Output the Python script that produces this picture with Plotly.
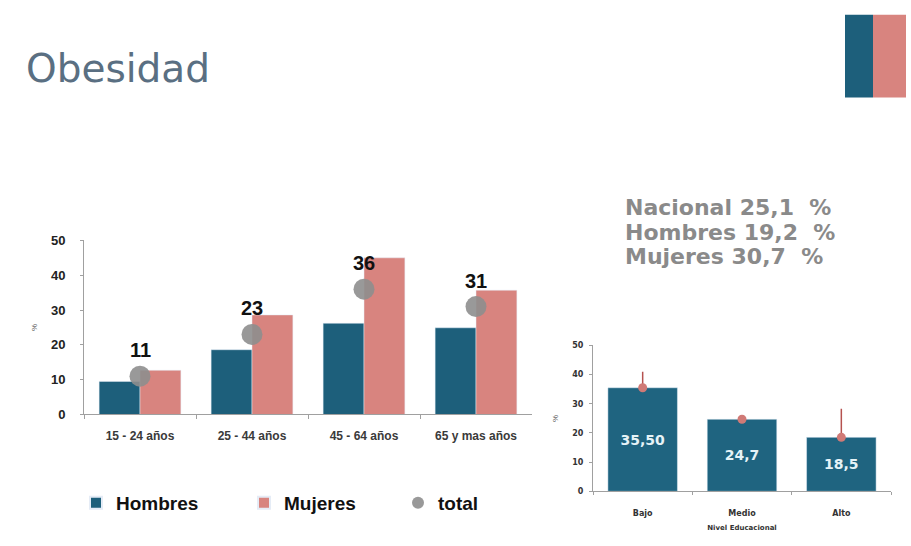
import plotly.graph_objects as go

W, H = 911, 546

# Obesidad por grupo de edad y sexo (%)
grupos_edad = ["15 - 24 años", "25 - 44 años", "45 - 64 años", "65 y mas años"]
hombres = [9.5, 18.6, 26.2, 24.9]
mujeres = [12.7, 28.6, 45.0, 35.7]
total = [11, 23, 36, 31]

# Obesidad por nivel educacional (%)
nivel_educ = ["Bajo", "Medio", "Alto"]
nivel_valores = [35.50, 24.7, 18.5]
nivel_textos = ["35,50", "24,7", "18,5"]
nivel_error_sup = [5.5, 0.8, 9.8]

# Prevalencias resumen
resumen_etiquetas = ["Nacional", "Hombres", "Mujeres"]
resumen_valores = ["25,1", "19,2", "30,7"]

TEAL = "#1d5f7b"
SALMON = "#d8847f"
GRIS = "#8e8e8e"
FONT = "Liberation Sans"


def px_x(x):
    return x / W


def px_y(y):
    return 1 - y / H


fig = go.Figure()

fig.add_trace(go.Bar(
    x=grupos_edad, y=hombres, name="Hombres", marker_color=TEAL,
    xaxis="x", yaxis="y", legend="legend",
))
fig.add_trace(go.Bar(
    x=grupos_edad, y=mujeres, name="Mujeres", marker_color=SALMON,
    xaxis="x", yaxis="y", legend="legend2",
))
fig.add_trace(go.Scatter(
    x=grupos_edad, y=total, name="total", mode="markers",
    marker=dict(size=21, color=GRIS, opacity=0.9),
    xaxis="x", yaxis="y", legend="legend3", cliponaxis=False,
))

for g, v in zip(grupos_edad, total):
    fig.add_annotation(
        x=g, y=v, xref="x", yref="y", text=str(v), showarrow=False,
        yshift=26, font=dict(family=FONT, size=20, color="#111", weight="bold"),
    )

fig.add_trace(go.Bar(
    x=nivel_educ, y=nivel_valores, text=nivel_textos, width=0.7,
    marker_color="#1f6480", showlegend=False,
    textposition="inside", insidetextanchor="middle",
    textfont=dict(family="DejaVu Sans", size=14, color="#e6f3f7", weight="bold"),
    xaxis="x2", yaxis="y2",
))
fig.add_trace(go.Scatter(
    x=nivel_educ, y=nivel_valores, mode="markers", showlegend=False,
    marker=dict(size=9, color="#d07a76"),
    error_y=dict(type="data", symmetric=False, array=nivel_error_sup,
                 arrayminus=[0, 0, 0], color="#b5524f", thickness=1.5, width=0),
    xaxis="x2", yaxis="y2", cliponaxis=False,
))

axis_common = dict(showgrid=False, zeroline=False, showline=True,
                   linecolor="#a0a0a0", linewidth=1)

legend_common = dict(
    orientation="h", yanchor="middle", xanchor="left", y=px_y(510),
    bgcolor="rgba(0,0,0,0)", itemsizing="constant",
    font=dict(family=FONT, size=19, color="#111", weight="bold"),
)

fig.update_layout(
    width=W, height=H, margin=dict(l=0, r=0, t=0, b=0),
    paper_bgcolor="white", plot_bgcolor="white",
    barmode="group", bargap=0.27, bargroupgap=0,
    xaxis=dict(domain=[px_x(84), px_x(532)], range=[-0.5, 3.5],
               ticks="outside", tickson="boundaries", ticklen=4,
               tickcolor="#a0a0a0", ticklabelstandoff=10,
               tickfont=dict(family=FONT, size=12, color="#3a3a3a", weight="bold"),
               anchor="y", **axis_common),
    yaxis=dict(domain=[px_y(419), px_y(240)], range=[0, 50], dtick=10,
               ticks="outside", ticklen=3, tickcolor="#a0a0a0",
               ticklabelstandoff=12,
               tickfont=dict(family=FONT, size=13, color="#222", weight="bold"),
               title=dict(text="%", standoff=12,
                          font=dict(family=FONT, size=8, color="#555")),
               anchor="x", **axis_common),
    xaxis2=dict(domain=[px_x(593), px_x(891)], range=[-0.5, 2.5],
                ticks="outside", tickson="boundaries", ticklen=3,
                tickcolor="#a0a0a0", ticklabelstandoff=14,
                tickfont=dict(family="DejaVu Sans", size=8, color="#333", weight="bold"),
                title=dict(text="Nivel Educacional", standoff=8,
                           font=dict(family="DejaVu Sans", size=7, color="#333", weight="bold")),
                anchor="y2", **axis_common),
    yaxis2=dict(domain=[px_y(498), px_y(348)], range=[0, 50], dtick=10,
                ticks="outside", ticklen=3, tickcolor="#a0a0a0",
                ticklabelstandoff=4,
                tickfont=dict(family="DejaVu Sans", size=8, color="#333", weight="bold"),
                title=dict(text="%", standoff=12,
                           font=dict(family=FONT, size=8, color="#555")),
                anchor="x2", **axis_common),
    legend=dict(x=px_x(76), **legend_common),
    legend2=dict(x=px_x(244), **legend_common),
    legend3=dict(x=px_x(398), **legend_common),
    showlegend=True,
)

# Título
fig.add_annotation(
    x=px_x(24), y=px_y(63), xref="paper", yref="paper", xanchor="left",
    yanchor="middle", text="Obesidad", showarrow=False,
    font=dict(family="DejaVu Sans", size=39, color="#5a6f82"),
)

# Bloque de prevalencias
for i, (etq, val) in enumerate(zip(resumen_etiquetas, resumen_valores)):
    fig.add_annotation(
        x=px_x(623), y=px_y(206 + i * 25.5), xref="paper", yref="paper",
        xanchor="left", yanchor="middle", showarrow=False,
        text=f"{etq} {val}\u00a0\u00a0%",
        font=dict(family="DejaVu Sans", size=22, color="#8a8a8a", weight="bold"),
    )

# Franjas decorativas
fig.add_shape(type="rect", xref="paper", yref="paper",
              x0=px_x(845), x1=px_x(873), y0=px_y(93), y1=px_y(8),
              fillcolor=TEAL, line_width=0)
fig.add_shape(type="rect", xref="paper", yref="paper",
              x0=px_x(873), x1=px_x(906), y0=px_y(93), y1=px_y(8),
              fillcolor=SALMON, line_width=0)

fig.write_html("out.html")
